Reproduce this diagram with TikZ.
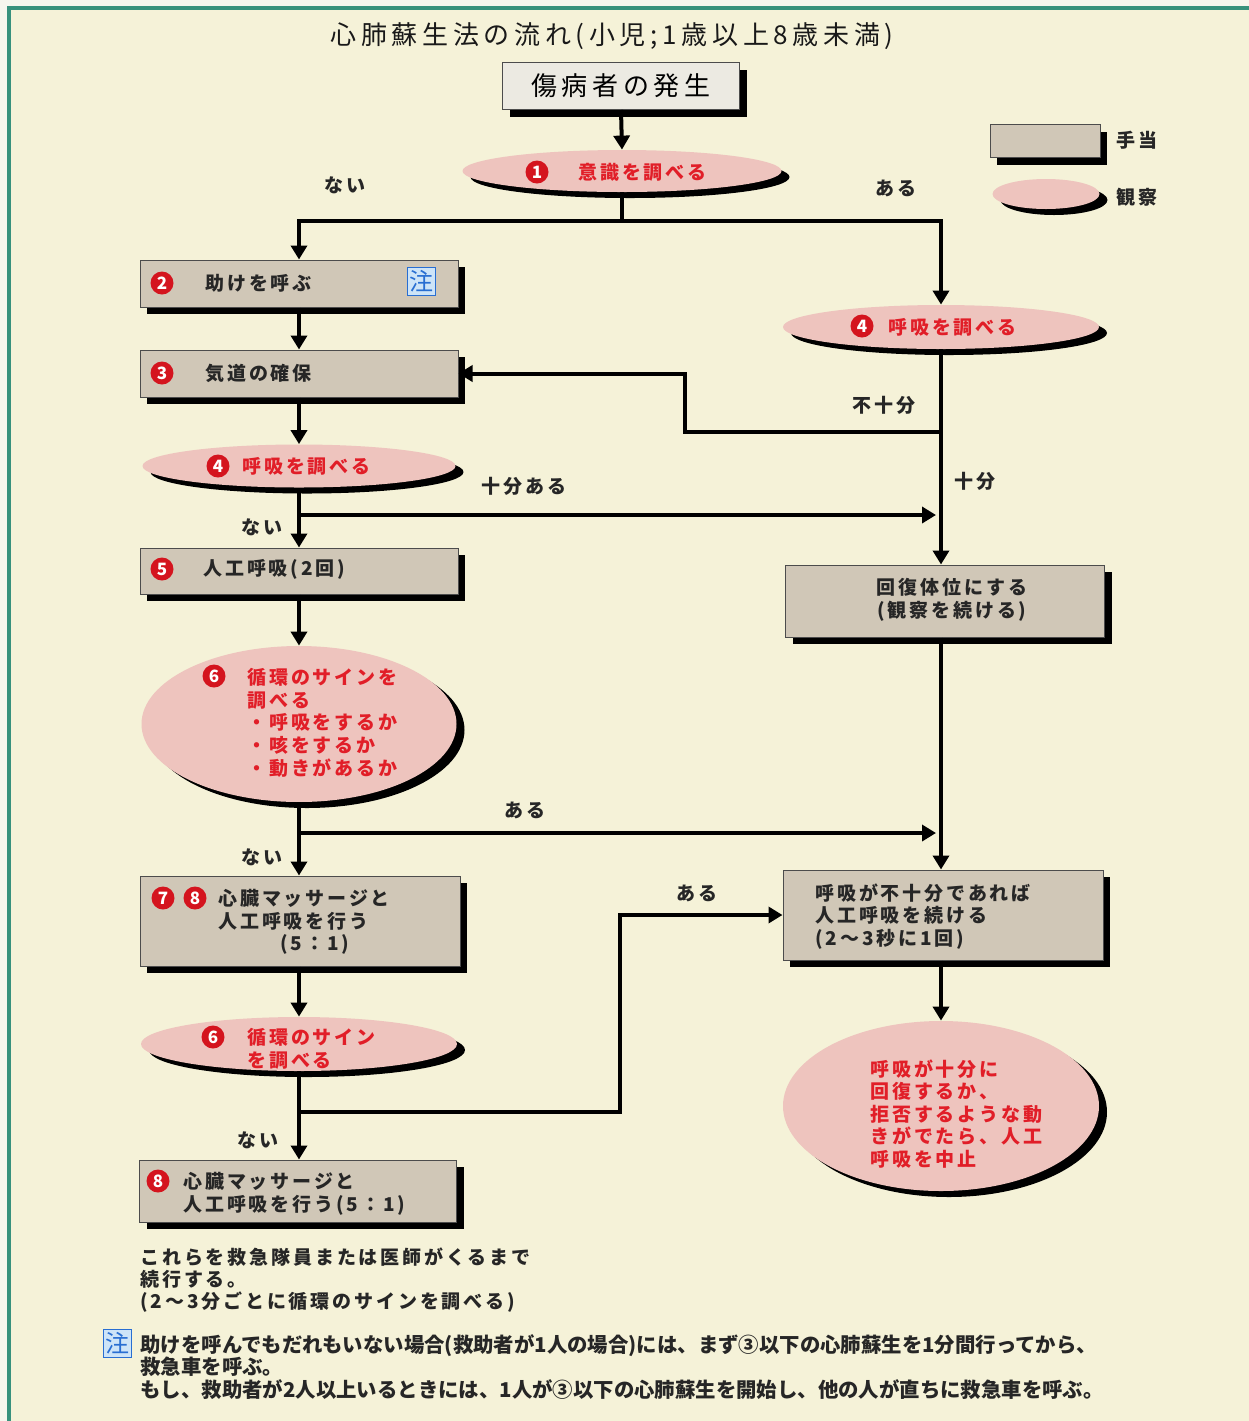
\documentclass[tikz,border=0pt]{standalone}
\usepackage{fontspec}
\usetikzlibrary{shapes.geometric,shadows,arrows.meta}
\newfontfamily\jp{Noto Sans CJK JP}[LetterSpace=15]
\newfontfamily\jpn{Noto Sans CJK JP}
\definecolor{bgc}{RGB}{245,242,216}
\definecolor{outc}{RGB}{246,246,238}
\definecolor{framec}{RGB}{55,145,125}
\definecolor{boxc}{RGB}{208,199,183}
\definecolor{topc}{RGB}{236,234,226}
\definecolor{pinkc}{RGB}{238,196,190}
\definecolor{redt}{RGB}{225,30,40}
\definecolor{numred}{RGB}{212,20,30}
\definecolor{chub}{RGB}{205,228,248}
\definecolor{chud}{RGB}{40,110,210}
\begin{document}
\begin{tikzpicture}[x=0.5pt,y=-0.5pt,
  txt/.style={font=\jp\bfseries\fontsize{9.5pt}{11.3pt}\selectfont, text=black!85, inner sep=0pt},
  rtxt/.style={txt, text=redt},
  lbl/.style={txt},
  ttl/.style={font=\jp\fontsize{13pt}{15pt}\selectfont\addfontfeature{LetterSpace=18}, text=black!90, inner sep=0pt},
  tbox/.style={rectangle, draw=black!70, line width=0.5pt, fill=boxc, inner sep=0pt,
    drop shadow={shadow xshift=3.5pt, shadow yshift=-3.5pt, fill=black, opacity=1}},
  obs/.style={ellipse, fill=pinkc, inner sep=0pt,
    drop shadow={shadow xshift=4pt, shadow yshift=-3pt, fill=black, opacity=1}},
  num/.style={circle, fill=numred, text=white, inner sep=0pt, minimum size=11.5pt,
    font=\jpn\bfseries\fontsize{8.5pt}{9pt}\selectfont},
  chu/.style={rectangle, draw=chud, line width=0.5pt, fill=chub, text=chud, inner sep=0pt,
    minimum size=14pt, font=\jpn\fontsize{12pt}{13pt}\selectfont},
  ln/.style={line width=2pt},
  arr/.style={line width=2pt, -{Triangle[width=8pt,length=7pt]}},
  ftxt/.style={font=\jpn\bfseries\fontsize{10.2pt}{11.3pt}\selectfont, text=black!85, inner sep=0pt, align=left}
]
\useasboundingbox (0,0) rectangle (1249,1421);
\fill[outc] (0,0) rectangle (1249,1421);
\fill[bgc] (9,8) rectangle (1249,1421);
\draw[framec, line width=2pt] (9,1421) -- (9,8) -- (1249,8);

% title
\node[ttl] (title) at (612,36) {心肺蘇生法の流れ(小児;1歳以上8歳未満)};

% legend
\node[tbox, minimum width=55pt, minimum height=16.5pt] (lg1) at (1045,141) {};
\node[lbl, anchor=west] (lg1t) at (1116,140) {手当};
\node[obs, minimum width=53.5pt, minimum height=15pt] (lg2) at (1046,194) {};
\node[lbl, anchor=west] (lg2t) at (1116,197) {観察};

% top box
\node[tbox, fill=topc, minimum width=118.5pt, minimum height=23.5pt,
  font=\jp\fontsize{13pt}{15pt}\selectfont\addfontfeature{LetterSpace=18}] (top) at (621,86) {傷病者の発生};

% ellipse 1
\node[obs, minimum width=159.5pt, minimum height=21pt] (e1) at (622,171) {};
\node[num] (n1) at (537,172) {1};
\node[rtxt, anchor=west] (t1) at (578,172) {意識を調べる};

% box 2
\node[tbox, minimum width=159pt, minimum height=23.5pt] (b2) at (299,283.5) {};
\node[num] (n2) at (162,283) {2};
\node[txt, anchor=west] (t2) at (205,283) {助けを呼ぶ};
\node[chu] (c2) at (421,281) {注};

% box 3
\node[tbox, minimum width=159pt, minimum height=23.5pt] (b3) at (299,373.5) {};
\node[num] (n3) at (162,373) {3};
\node[txt, anchor=west] (t3) at (205,373) {気道の確保};

% ellipse 4 left
\node[obs, minimum width=156.5pt, minimum height=21.5pt] (e4l) at (299,466) {};
\node[num] (n4l) at (218,466) {4};
\node[rtxt, anchor=west] (t4l) at (242,466) {呼吸を調べる};

% ellipse 4 right
\node[obs, minimum width=158pt, minimum height=22pt] (e4r) at (941,327) {};
\node[num] (n4r) at (862,326) {4};
\node[rtxt, anchor=west] (t4r) at (888,327) {呼吸を調べる};

% box 5
\node[tbox, minimum width=159pt, minimum height=23pt] (b5) at (299,571) {};
\node[num] (n5) at (162,569) {5};
\node[txt, anchor=west] (t5) at (203,569) {人工呼吸(2回)};

% ellipse 6
\node[obs, minimum width=157.5pt, minimum height=78pt] (e6) at (299,724) {};
\node[num] (n6) at (214,676) {6};
\node[rtxt, anchor=north west, align=left] (t6) at (247,668) {循環のサインを\\調べる\\・呼吸をするか\\・咳をするか\\・動きがあるか};

% box 7-8
\node[tbox, minimum width=160pt, minimum height=45pt] (b78) at (300,921) {};
\node[num] (n7) at (163,898) {7};
\node[num] (n8a) at (195,898) {8};
\node[txt, anchor=north west, align=left] (t78) at (218,889) {心臓マッサージと\\人工呼吸を行う\\\hspace*{31pt}(5：1)};

% ellipse 6b
\node[obs, minimum width=158pt, minimum height=27pt] (e6b) at (299,1044) {};
\node[num] (n6b) at (213,1037) {6};
\node[rtxt, anchor=north west, align=left] (t6b) at (247,1028) {循環のサイン\\を調べる};

% box 8
\node[tbox, minimum width=158.5pt, minimum height=31pt] (b8) at (298,1191) {};
\node[num] (n8) at (158,1181) {8};
\node[txt, anchor=north west, align=left] (t8) at (183,1172) {心臓マッサージと\\人工呼吸を行う(5：1)};

% recovery box
\node[tbox, minimum width=159.5pt, minimum height=36pt] (rb) at (945,601) {};
\node[txt, align=center] (trb) at (952,600) {回復体位にする\\(観察を続ける)};

% right box 2
\node[tbox, minimum width=160pt, minimum height=45pt] (r2) at (943,915) {};
\node[txt, anchor=north west, align=left] (tr2) at (815,883) {呼吸が不十分であれば\\人工呼吸を続ける\\(2～3秒に1回)};

% right ellipse
\node[obs, minimum width=158pt, minimum height=85pt] (re) at (941,1106) {};
\node[rtxt, anchor=north west, align=left] (tre) at (870,1059) {呼吸が十分に\\回復するか、\\拒否するような動\\きがでたら、人工\\呼吸を中止};

% bottom text
\node[txt, anchor=north west, align=left, font=\jp\bfseries\fontsize{9.5pt}{11pt}\selectfont] (bt) at (140,1247) {これらを救急隊員または医師がくるまで\\続行する。\\(2～3分ごとに循環のサインを調べる)};

% footnote
\node[chu] (c3) at (117,1343) {注};
\node[ftxt, anchor=north west] (fn) at (140,1334) {助けを呼んでもだれもいない場合(救助者が1人の場合)には、まず③以下の心肺蘇生を1分間行ってから、\\救急車を呼ぶ。\\もし、救助者が2人以上いるときには、1人が③以下の心肺蘇生を開始し、他の人が直ちに救急車を呼ぶ。};

% labels
\node[lbl] (l1) at (345,185) {ない};
\node[lbl] (l2) at (896,188) {ある};
\node[lbl] (l3) at (884,405) {不十分};
\node[lbl] (l4) at (975,481) {十分};
\node[lbl] (l5) at (524,486) {十分ある};
\node[lbl] (l6) at (262,527) {ない};
\node[lbl] (l7) at (525,810) {ある};
\node[lbl] (l8) at (262,857) {ない};
\node[lbl] (l9) at (697,893) {ある};
\node[lbl] (l10) at (258,1140) {ない};

% junction coordinates
\coordinate (j1) at (622,221);
\coordinate (k1) at (941,432);
\coordinate (k2) at (685,432);
\coordinate (k3) at (936,515);
\coordinate (k4) at (936,833);
\coordinate (k5) at (620,1112);

% connectors
\draw[arr] (top.south) -- (e1.north);
\draw[ln] (e1.south) -- (j1);
\draw[arr] (j1) -| (b2.north);
\draw[arr] (j1) -| (e4r.north);
\draw[arr] (b2.south) -- (b3.north);
\draw[arr] (b3.south) -- (e4l.north);
\draw[arr] (e4r.south) -- (e4r.south |- rb.north);
\draw[arr] (k1) -- (k2) |- (b3.east);
\draw[arr] (e4l.south) |- (k3);
\draw[arr] (e4l.south |- k3) -- (b5.north);
\draw[arr] (b5.south) -- (e6.north);
\draw[arr] (e6.south) |- (k4);
\draw[arr] (e6.south |- k4) -- (e6.south |- b78.north);
\draw[arr] (e4r.south |- rb.south) -- (e4r.south |- r2.north);
\draw[arr] (e6.south |- b78.south) -- (e6b.north);
\draw[arr] (e6b.south) |- (k5) |- (r2.west);
\draw[arr] (e6b.south |- k5) -- (e6b.south |- b8.north);
\draw[arr] (e4r.south |- r2.south) -- (re.north);
\end{tikzpicture}
\end{document}
